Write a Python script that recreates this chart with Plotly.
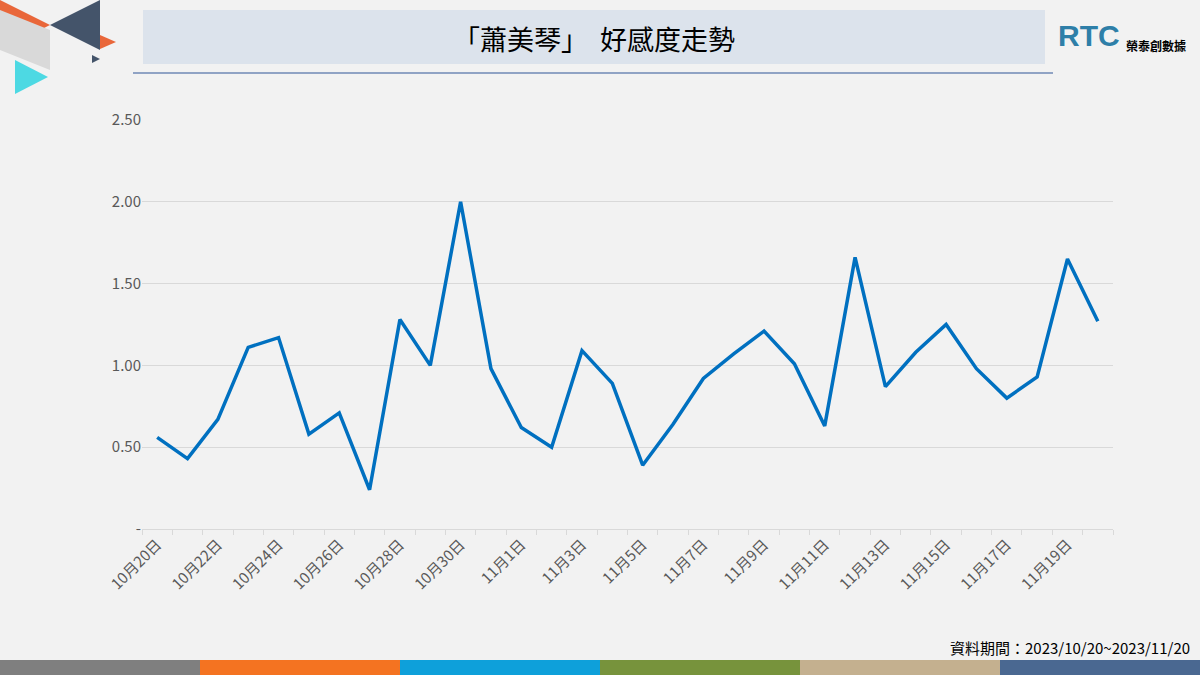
import plotly.graph_objects as go

dates = ["10月20日","10月21日","10月22日","10月23日","10月24日","10月25日","10月26日","10月27日",
         "10月28日","10月29日","10月30日","10月31日","11月1日","11月2日","11月3日","11月4日",
         "11月5日","11月6日","11月7日","11月8日","11月9日","11月10日","11月11日","11月12日",
         "11月13日","11月14日","11月15日","11月16日","11月17日","11月18日","11月19日","11月20日"]
values = [0.56,0.43,0.67,1.11,1.17,0.58,0.71,0.24,1.28,1.00,2.00,0.98,0.62,0.50,1.09,0.89,
          0.39,0.64,0.92,1.07,1.21,1.01,0.63,1.66,0.87,1.08,1.25,0.98,0.80,0.93,1.65,1.27]
ytick_vals = [0, 0.5, 1.0, 1.5, 2.0, 2.5]
ytick_text = ["-", "0.50", "1.00", "1.50", "2.00", "2.50"]

L, R, T, B = 142, 1113, 120, 529
def fx(px): return (px - L) / (R - L)
def fy(py): return (B - py) / (B - T)

fig = go.Figure(go.Scatter(x=list(range(len(dates))), y=values, mode="lines",
                           line=dict(color="#0070C0", width=3.5)))
shapes = []
def rect(x0, y0, x1, y1, color):
    shapes.append(dict(type="rect", xref="paper", yref="paper", x0=fx(x0), x1=fx(x1),
                       y0=fy(y1), y1=fy(y0), fillcolor=color, line=dict(width=0), layer="below"))
def tri(pts, color):
    p = "M " + " L ".join(f"{fx(a)},{fy(b)}" for a, b in pts) + " Z"
    shapes.append(dict(type="path", xref="paper", yref="paper", path=p, fillcolor=color, line=dict(width=0)))

rect(143, 10, 1045, 64, "#DCE3EC")
shapes.append(dict(type="line", xref="paper", yref="paper", x0=fx(133), x1=fx(1053), y0=fy(73), y1=fy(73),
                   line=dict(color="#2F5597", width=1)))
cols = ["#7F7F7F", "#F47321", "#0EA0DA", "#77933C", "#C4B08F", "#4A6891"]
for i, c in enumerate(cols):
    rect(i * 200, 660, (i + 1) * 200, 675, c)
tri([(0, 0), (50, 25), (0, 50)], "#E9673A")
tri([(0, 10), (50, 30), (50, 70), (0, 50)], "#D9D9D9")
tri([(50, 25), (100, 0), (100, 50)], "#44546A")
tri([(100, 35), (116, 42), (100, 49)], "#E9673A")
tri([(15, 60), (48, 77), (15, 94)], "#4DD9E3")
tri([(92, 55), (100, 59), (92, 63)], "#44546A")

tickvals = list(range(0, len(dates), 2))
fig.update_layout(
    width=1200, height=675, margin=dict(l=L, r=1200 - R, t=T, b=675 - B),
    paper_bgcolor="#F2F2F2", plot_bgcolor="#F2F2F2", showlegend=False, shapes=shapes,
    font=dict(family="Noto Sans CJK TC", color="#595959"),
    xaxis=dict(range=[-0.5, len(dates) - 0.5], tickmode="array", tickvals=tickvals,
               ticktext=[dates[i] for i in tickvals], tickangle=-45, tickfont=dict(size=15),
               showgrid=False, showline=True, linecolor="#D9D9D9", ticks="",
               minor=dict(ticks="outside", tick0=-0.5, dtick=1, ticklen=5, tickcolor="#D9D9D9", showgrid=False),
               zeroline=False),
    yaxis=dict(range=[0, 2.5], tickvals=ytick_vals, ticktext=ytick_text, tickfont=dict(size=15),
               gridcolor="#D9D9D9", zeroline=False, showline=False),
    annotations=[
        dict(text="「蕭美琴」  好感度走勢", x=fx(594), y=fy(38), xref="paper", yref="paper",
             yanchor="middle", showarrow=False, font=dict(size=27, color="#000000")),
        dict(text="<b>RTC</b>", x=fx(1056), y=fy(36), xref="paper", yref="paper", xanchor="left",
             yanchor="middle", showarrow=False, font=dict(size=30, color="#2E7FA8", family="Liberation Sans")),
        dict(text="<b>榮泰創數據</b>", x=fx(1124), y=fy(45), xref="paper", yref="paper", xanchor="left",
             yanchor="middle", showarrow=False, font=dict(size=12, color="#000000")),
        dict(text="資料期間：2023/10/20~2023/11/20", x=fx(1192), y=fy(647), xref="paper", yref="paper",
             xanchor="right", yanchor="middle", showarrow=False, font=dict(size=15, color="#000000")),
    ])
fig.write_html("out.html", config={"displayModeBar": False},
               post_script="document.body.style.margin='0';document.body.style.overflow='hidden';")
